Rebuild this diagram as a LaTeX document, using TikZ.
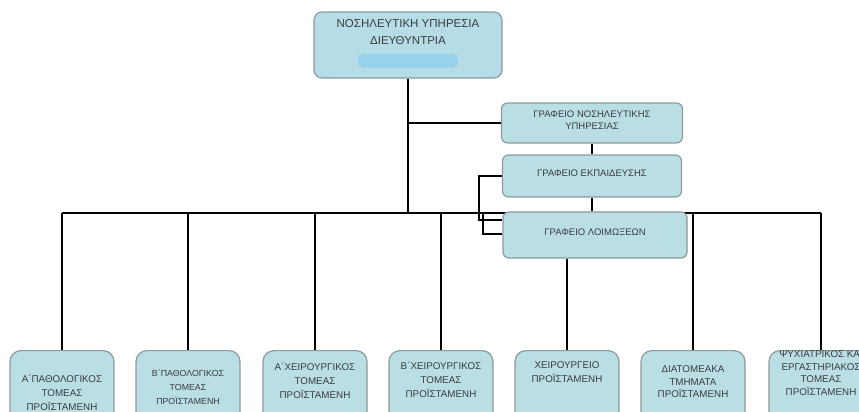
\documentclass[tikz,border=0pt]{standalone}
\usepackage{fontspec}
\setmainfont{Liberation Sans}
\usepackage{tikz}
\usetikzlibrary{backgrounds}

\definecolor{boxfill}{HTML}{B9DEE4}
\definecolor{topfill}{HTML}{B6DCE8}
\definecolor{boxedge}{HTML}{8C9A9C}
\definecolor{inkgray}{HTML}{3C3C3C}
\definecolor{blobblue}{HTML}{8ED0EA}

% text block lifted inside a box, without changing the box size
\newcommand\boxtext[2][0pt]{\raisebox{#1}[0pt][0pt]{\begin{tabular}{@{}c@{}}#2\end{tabular}}}

\tikzset{
  headbox/.style={draw=boxedge, line width=1.2pt, fill=topfill, rounded corners=8pt,
    minimum width=188pt, minimum height=66pt, text=inkgray, font=\fontsize{11.5}{17}\selectfont},
  officebox/.style={draw=boxedge, line width=1.2pt, fill=boxfill, rounded corners=6pt,
    text=inkgray, font=\fontsize{9.5}{12}\selectfont},
  unitbox/.style={draw=boxedge, line width=1.2pt, fill=boxfill, rounded corners=11pt, anchor=north,
    minimum width=104pt, minimum height=80pt, text=inkgray, font=\fontsize{9.8}{14}\selectfont},
  link/.style={line width=1.6pt},
}

\begin{document}
\begin{tikzpicture}[x=1pt,y=-1pt]
\useasboundingbox (0,0) rectangle (859,412);

% head of the service
\node [headbox] (dir) at (408,45) {\boxtext[9pt]{ΝΟΣΗΛΕΥΤΙΚΗ ΥΠΗΡΕΣΙΑ\\ΔΙΕΥΘΥΝΤΡΙΑ}};
\fill [blobblue, opacity=0.8, rounded corners=5pt]
	([shift={(-50,-25)}]dir.south) rectangle ([shift={(50,-11)}]dir.south);

% offices
\node [officebox, minimum width=181pt, minimum height=40pt] (ofc1) at (592,123)
	{\boxtext{ΓΡΑΦΕΙΟ ΝΟΣΗΛΕΥΤΙΚΗΣ\\ΥΠΗΡΕΣΙΑΣ}};
\node [officebox, minimum width=179pt, minimum height=42pt] (ofc2) at (592,176)
	{\boxtext{ΓΡΑΦΕΙΟ ΕΚΠΑΙΔΕΥΣΗΣ}};
\node [officebox, minimum width=184pt, minimum height=46pt] (ofc3) at (595,235)
	{\boxtext{ΓΡΑΦΕΙΟ ΛΟΙΜΩΞΕΩΝ}};

% sectors
\node [unitbox] (u1) at (62,350) {\boxtext[-5.5pt]{Α΄ΠΑΘΟΛΟΓΙΚΟΣ\\ΤΟΜΕΑΣ\\ΠΡΟΪΣΤΑΜΕΝΗ}};
\node [unitbox, font=\fontsize{8.8}{14}\selectfont] (u2) at (188,350)
	{\boxtext[0.5pt]{Β΄ΠΑΘΟΛΟΓΙΚΟΣ\\ΤΟΜΕΑΣ\\ΠΡΟΪΣΤΑΜΕΝΗ}};
\node [unitbox] (u3) at (315,350) {\boxtext[6pt]{Α΄ΧΕΙΡΟΥΡΓΙΚΟΣ\\ΤΟΜΕΑΣ\\ΠΡΟΪΣΤΑΜΕΝΗ}};
\node [unitbox] (u4) at (441,350) {\boxtext[7.5pt]{Β΄ΧΕΙΡΟΥΡΓΙΚΟΣ\\ΤΟΜΕΑΣ\\ΠΡΟΪΣΤΑΜΕΝΗ}};
\node [unitbox] (u5) at (567,350) {\boxtext[15pt]{ΧΕΙΡΟΥΡΓΕΙΟ\\ΠΡΟΪΣΤΑΜΕΝΗ}};
\node [unitbox, font=\fontsize{9.8}{12.5}\selectfont] (u6) at (693,350)
	{\boxtext[5.5pt]{ΔΙΑΤΟΜΕΑΚΑ\\ΤΜΗΜΑΤΑ\\ΠΡΟΪΣΤΑΜΕΝΗ}};
\node [unitbox, font=\fontsize{9.8}{12.5}\selectfont] (u7) at (821,350)
	{\boxtext[14pt]{ΨΥΧΙΑΤΡΙΚΟΣ ΚΑΙ\\ΕΡΓΑΣΤΗΡΙΑΚΟΣ\\ΤΟΜΕΑΣ\\ΠΡΟΪΣΤΑΜΕΝΗ}};

\coordinate (busL) at (62,213);
\coordinate (busR) at (821,213);
\coordinate (hookA) at (479,220);
\coordinate (hookB) at (483,234);

\begin{pgfonlayer}{background}
\draw [link] (busL) -- (busR);
\draw [link] (dir.south) -- (dir.south |- busL);
\draw [link] (dir.south |- ofc1.west) -- (ofc1.west);
\draw [link] (ofc1.south) -- (ofc2.north);
\draw [link] (ofc2.south) -- (ofc2.south |- ofc3.north);
\draw [line width=2.6pt] (ofc2.west) -| (hookA) -- (hookA -| ofc3.west);
\draw [link] (hookB |- busL) -- (hookB) -- (hookB -| ofc3.west);
\foreach \u in {u1,u2,u3,u4,u6,u7}
	\draw [link] (\u.north |- busL) -- (\u.north);
\draw [link] (u5.north |- ofc3.south) -- (u5.north);
\end{pgfonlayer}
\end{tikzpicture}
\end{document}
